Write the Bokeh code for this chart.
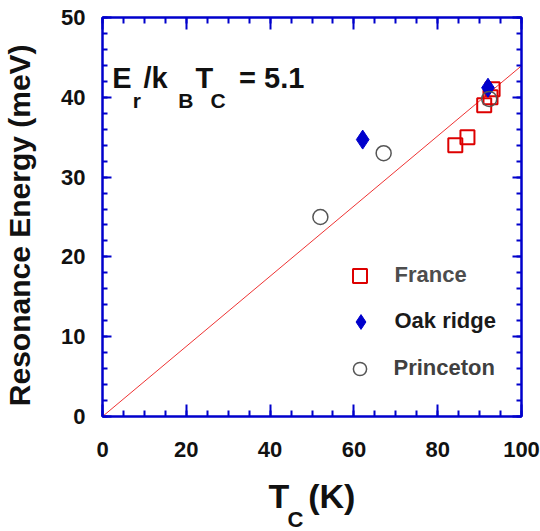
from bokeh.plotting import figure
from bokeh.models import (Range1d, SingleIntervalTicker, LinearAxis, Label,
                          Legend, LegendItem, Title)
from bokeh.embed import file_html
from bokeh.resources import INLINE

# ---------------- data ----------------
france_tc = [84.2, 87.1, 91.1, 92.6, 93.1]
france_e = [34.0, 35.0, 39.0, 40.0, 41.0]
oak_tc = [62.1, 92.0]
oak_e = [34.7, 41.2]
princeton_tc = [52.0, 67.1, 92.3]
princeton_e = [25.0, 33.0, 39.8]
ratio = 5.1
k_b = 0.08617  # meV/K
fit_tc = [0, 100]
fit_e = [ratio * k_b * t for t in fit_tc]

x_range = (0, 100)
y_range = (0, 50)

BLUE = "#0000cc"
RED = "#dd0000"
FONT = "Liberation Sans"
NBSP = "\u00a0"

p = figure(width=540, height=531, x_range=Range1d(*x_range), y_range=Range1d(*y_range),
           output_backend="svg", toolbar_location=None,
           min_border_left=102, min_border_right=19, min_border_top=17, min_border_bottom=115)
p.xgrid.visible = False
p.ygrid.visible = False
p.outline_line_color = BLUE
p.outline_line_width = 2
p.background_fill_color = "white"
p.border_fill_color = "white"


def style_axis(ax, interval, n_minor, major_in, minor_in, labels):
    ax.ticker = SingleIntervalTicker(interval=interval, num_minor_ticks=n_minor)
    ax.axis_line_color = BLUE
    ax.axis_line_width = 2
    ax.major_tick_line_color = BLUE
    ax.major_tick_line_width = 2
    ax.major_tick_in = major_in
    ax.major_tick_out = 0
    ax.minor_tick_line_color = BLUE
    ax.minor_tick_line_width = 2
    ax.minor_tick_in = minor_in
    ax.minor_tick_out = 0
    if labels:
        ax.major_label_text_font = FONT
        ax.major_label_text_font_style = "bold"
        ax.major_label_text_font_size = "22px"
        ax.major_label_text_color = "#111111"
    else:
        ax.major_label_text_color = None
        ax.major_label_text_font_size = "10px"
        ax.major_label_standoff = 0


xa = p.xaxis[0]
style_axis(xa, 20, 4, 12, 6, True)
xa.major_label_standoff = 25
xa.axis_label = "T" + NBSP * 2 + "(K)"
xa.axis_label_text_font = FONT
xa.axis_label_text_font_style = "bold"
xa.axis_label_text_font_size = "34px"
xa.axis_label_text_color = "#111111"
xa.axis_label_standoff = 17

ya = p.yaxis[0]
style_axis(ya, 10, 5, 9, 5, True)
ya.major_label_standoff = 17
ya.axis_label = "Resonance Energy (meV)" + NBSP * 2
ya.axis_label_text_font = FONT
ya.axis_label_text_font_style = "bold"
ya.axis_label_text_font_size = "30px"
ya.axis_label_text_color = "#111111"
ya.axis_label_standoff = 22

ax_top = LinearAxis()
style_axis(ax_top, 20, 4, 12, 6, False)
p.add_layout(ax_top, "above")
ax_right = LinearAxis()
style_axis(ax_right, 10, 5, 9, 5, False)
p.add_layout(ax_right, "right")

# subscript C of the x-axis label
p.add_layout(Title(text="C", align="left", offset=185, standoff=-25,
                   text_font=FONT, text_font_style="bold", text_font_size="22px",
                   text_color="#111111"), "below")

# fit line
p.line(fit_tc, fit_e, line_color="#ee3333", line_width=1)

r_fr = p.scatter(france_tc, france_e, marker="square", size=14, line_color=RED,
                 line_width=2, fill_color=None)
r_oak = p.scatter(oak_tc, oak_e, marker="diamond", size=19, line_color=BLUE,
                  fill_color=BLUE, line_width=1)
r_pr = p.scatter(princeton_tc, princeton_e, marker="circle", size=15, line_color="#555555",
                 line_width=1.5, fill_color=None)


# legends (one per entry so each label can have its own shade)
def add_legend(label, rend, box, gx, gy, color):
    leg = Legend(items=[LegendItem(label=label, renderers=[rend])],
                 location=(gx - box / 2, gy - box / 2), glyph_width=box, glyph_height=box,
                 padding=0, margin=0, spacing=0, border_line_color=None,
                 background_fill_alpha=0, label_standoff=int(round(35 - box / 2)),
                 label_text_font=FONT, label_text_font_style="bold",
                 label_text_font_size="22px", label_text_color=color,
                 label_text_baseline="middle")
    p.add_layout(leg)


add_legend("France", r_fr, 35, 257, 141, "#4d4d4d")
add_legend("Oak ridge", r_oak, 37, 258, 95, "#1a1a1a")
add_legend("Princeton", r_pr, 33, 257, 48, "#404040")


# title  E_r / k_B T_C = 5.1
def lab(text, x, y, size):
    p.add_layout(Label(x=x, y=y, text=text, text_font=FONT, text_font_style="bold",
                       text_font_size=size, text_color="#111111",
                       text_baseline="alphabetic"))


main_y = 42.4
sub_y = 39.6
lab("E", 2.3, main_y, "29px")
lab("r", 7.2, sub_y, "21px")
lab("/k", 9.8, main_y, "29px")
lab("B", 18.1, sub_y, "21px")
lab("T", 22.2, main_y, "29px")
lab("C", 25.8, sub_y, "21px")
lab("= 5.1", 32.6, main_y, "29px")

open("out.html", "w").write(file_html(p, INLINE))
